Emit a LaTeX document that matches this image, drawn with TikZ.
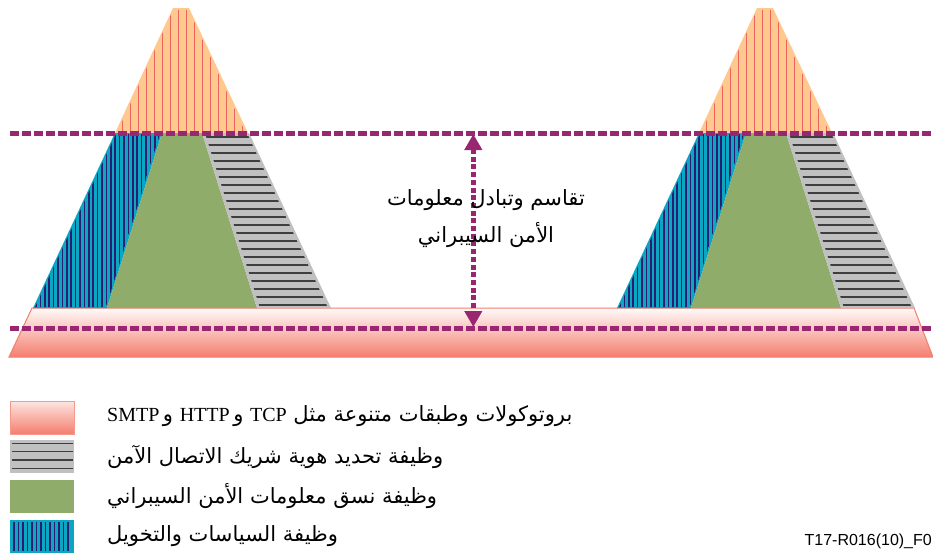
\documentclass[tikz,border=0pt]{standalone}
\usepackage{fontspec}
\setmainfont{Liberation Serif}
\newfontfamily\arabicfont[Script=Arabic]{DejaVu Sans}
\newfontfamily\figfont{Liberation Sans}
\TeXXeTstate=1
\usetikzlibrary{arrows.meta}

\definecolor{toporange}{RGB}{253,201,143}
\definecolor{topstripe}{RGB}{240,100,95}
\definecolor{polcyan}{RGB}{10,166,196}
\definecolor{polnavy}{RGB}{42,30,112}
\definecolor{idgray}{RGB}{192,192,192}
\definecolor{idline}{RGB}{62,62,62}
\definecolor{coordgreen}{RGB}{143,172,106}
\definecolor{protosalmon}{RGB}{244,126,110}
\definecolor{boundpurple}{RGB}{152,38,112}

\newcommand{\lat}[1]{\beginL{\rmfamily\fontsize{20}{22}\selectfont #1}\endL}

\begin{document}
\begin{tikzpicture}[x=1pt, y=-1pt,
  bound/.style={boundpurple, line width=4.5pt, dash pattern=on 9pt off 3pt},
  swatch/.style={minimum width=64pt, minimum height=33pt, inner sep=0pt, outer sep=0pt, anchor=north west},
  keytext/.style={anchor=west, inner sep=0pt, font=\arabicfont\fontsize{21}{24}\selectfont},
  share/.style={align=center, inner sep=0pt, font=\arabicfont\fontsize{21}{37}\selectfont}
]
\useasboundingbox (0,0) rectangle (933,555);

% Protocol layer
\shade[top color=protosalmon!4, bottom color=protosalmon, draw=protosalmon, line width=1pt]
  (32,308) -- (914,308) -- (933,357) -- (9,357) -- cycle;

% Pyramids
\foreach \dx in {0,584} {
  \begin{scope}[shift={(\dx,0)}]
    % protocols on top
    \fill[toporange] (173,8) -- (189,8) -- (248,133) -- (115,133) -- cycle;
    \begin{scope}
      \clip (173,10) -- (189,10) -- (246,133) -- (117,133) -- cycle;
      \foreach \x in {122.3,130.3,...,247}
        \draw[topstripe, line width=1.3pt] (\x,8) -- (\x,133);
    \end{scope}
    % policy
    \fill[polcyan] (115,133) -- (162,133) -- (107,308) -- (33,308) -- cycle;
    \begin{scope}
      \clip (116,134) -- (160,134) -- (106,307) -- (35,307) -- cycle;
      \foreach \x in {36,40.4,...,160}
        \draw[polnavy, line width=1.7pt] (\x,133) -- (\x,308);
    \end{scope}
    % format
    \fill[coordgreen] (162,133) -- (202,133) -- (257,308) -- (107,308) -- cycle;
    % identification
    \fill[idgray] (202,133) -- (249,133) -- (331,308) -- (257,308) -- cycle;
    \begin{scope}
      \clip (205,133) -- (247,133) -- (328,308) -- (260,308) -- cycle;
      \foreach \y in {136.7,144.7,...,305}
        \draw[idline, line width=1.7pt] (200,\y) -- (335,\y);
    \end{scope}
  \end{scope}
}

% Boundaries
\draw[bound] (10,133.3) -- (933,133.3);
\draw[bound] (10,328.7) -- (933,328.7);

% Sharing arrow
\coordinate (armtop) at (473.3,134);
\coordinate (armbot) at (473.3,327);
\draw[boundpurple, line width=4.5pt, dash pattern=on 5pt off 2.7pt,
  {Triangle[width=17pt,length=16pt]}-{Triangle[width=17pt,length=16pt]}] (armtop) -- (armbot);
\node[share] (sharing) at (486,219) {\beginR تقاسم وتبادل معلومات\endR\\\beginR الأمن السيبراني\endR};

% Legend
\node[swatch, top color=protosalmon!20, bottom color=protosalmon, draw=protosalmon!80] (keyproto) at (10,401) {};
\node[swatch, fill=idgray] (keyid) at (10,440) {};
\foreach \y in {3.3,11.7,20,28.3}
  \draw[idline, line width=1.5pt] ([shift={(2,\y)}]keyid.north west) -- ++(61,0);
\node[swatch, fill=coordgreen] (keyfmt) at (10,480) {};
\node[swatch, fill=polcyan] (keypol) at (10,520) {};
\foreach \x in {4,8.5,...,62}
  \draw[polnavy, line width=1.7pt] ([shift={(\x,2)}]keypol.north west) -- ++(0,29.3);

\node[keytext] (txtproto) at (107,416) {\beginR بروتوكولات وطبقات متنوعة مثل \lat{TCP} و\,\lat{HTTP} و\,\lat{SMTP}\endR};
\node[keytext] (txtid) at (107,457) {\beginR وظيفة تحديد هوية شريك الاتصال الآمن\endR};
\node[keytext] (txtfmt) at (107,496) {\beginR وظيفة نسق معلومات الأمن السيبراني\endR};
\node[keytext] (txtpol) at (107,536) {\beginR وظيفة السياسات والتخويل\endR};

\node[anchor=east, inner sep=0pt, font=\figfont\fontsize{16}{19}\selectfont] (figref) at (932,541) {T17-R016(10)\_F0};
\end{tikzpicture}
\end{document}
